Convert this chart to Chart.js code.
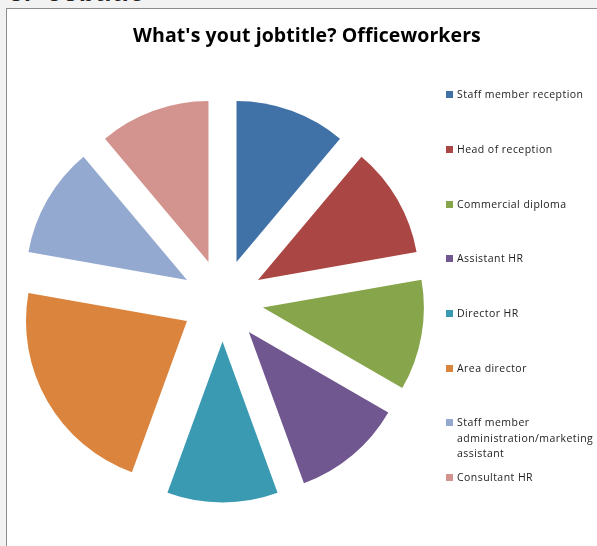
<!DOCTYPE html>
<html>
<head>
<meta charset="utf-8">
<script src="https://cdn.jsdelivr.net/npm/chart.js@4"></script>
<style>
  html, body { margin: 0; padding: 0; }
  body { width: 597px; height: 546px; background: #f2f2f2; position: relative; overflow: hidden; font-family: "Open Sans", "Noto Sans", sans-serif; }
  #heading { position: absolute; left: 9px; top: -22px; font: bold 25px "Liberation Sans", Arial, sans-serif; color: #222; letter-spacing: 1px; }
  #frame { position: absolute; left: 6px; top: 8px; width: 620px; height: 560px; background: #fff; border: 1px solid #8c8c8c; }
  #title { position: absolute; left: 0; width: 614px; top: 21px; text-align: center; font: bold 19.5px "Open Sans", "Noto Sans", sans-serif; color: #000; letter-spacing: 0.1px; }
  canvas { position: absolute; left: 0; top: 0; }
  #legend { position: absolute; left: 446px; top: 0; }
  .item { position: absolute; left: 0; width: 150px; font-size: 10.5px; line-height: 15.5px; color: #222; white-space: nowrap; letter-spacing: 0.45px; }
  .item i { position: absolute; left: 0; top: 4px; width: 7px; height: 7px; }
  .item span { display: block; margin-left: 11px; }
</style>
</head>
<body>
<div id="heading">3.&nbsp;&nbsp;Jobtitle</div>
<div id="frame"></div>
<canvas id="myChart" width="597" height="546"></canvas>
<div id="title">What's yout jobtitle? Officeworkers</div>
<div id="legend"></div>
<script>
  // Jobtitles of the officeworkers
  var labels = [
    'Staff member reception',
    'Head of reception',
    'Commercial diploma',
    'Assistant HR',
    'Director HR',
    'Area director',
    ['Staff member', 'administration/marketing', 'assistant'],
    'Consultant HR'
  ];
  var counts = [1, 1, 1, 1, 1, 2, 1, 1];
  var colors = ['#4172a7', '#aa4643', '#87a54a', '#71578f', '#3a9ab2', '#db843d', '#93a9cf', '#d3938f'];

  // Gap between the exploded slices
  var gap = 41;

  // Draws each slice pushed out along its middle angle
  var explode = {
    id: 'explode',
    beforeDatasetsDraw: function(chart) {
      var ctx = chart.ctx;
      chart.getDatasetMeta(0).data.forEach(function(arc) {
        var mid = (arc.startAngle + arc.endAngle) / 2;
        ctx.save();
        ctx.translate(Math.cos(mid) * gap, Math.sin(mid) * gap);
        arc.draw(ctx);
        ctx.restore();
      });
      return false;
    }
  };

  var ctx = document.getElementById('myChart').getContext('2d');
  var chart = new Chart(ctx, {
    type: 'pie',
    data: {
      labels: labels,
      datasets: [{
        data: counts,
        backgroundColor: colors,
        borderWidth: 0,
        radius: 161
      }]
    },
    options: {
      responsive: false,
      animation: false,
      layout: { padding: { left: 0, right: 152, top: 60, bottom: 5 } },
      plugins: {
        legend: { display: false },
        tooltip: { enabled: false }
      }
    },
    plugins: [explode]
  });

  // Legend on the right, one entry per jobtitle
  var legend = document.getElementById('legend');
  chart.data.labels.forEach(function(label, i) {
    var div = document.createElement('div');
    div.className = 'item';
    div.style.top = (95 + i * 54.7 - 7.75) + 'px';
    var text = Array.isArray(label) ? label.join('<br>') : label;
    div.innerHTML = '<i style="background:' + colors[i] + '"></i><span>' + text + '</span>';
    legend.appendChild(div);
  });
</script>
</body>
</html>
